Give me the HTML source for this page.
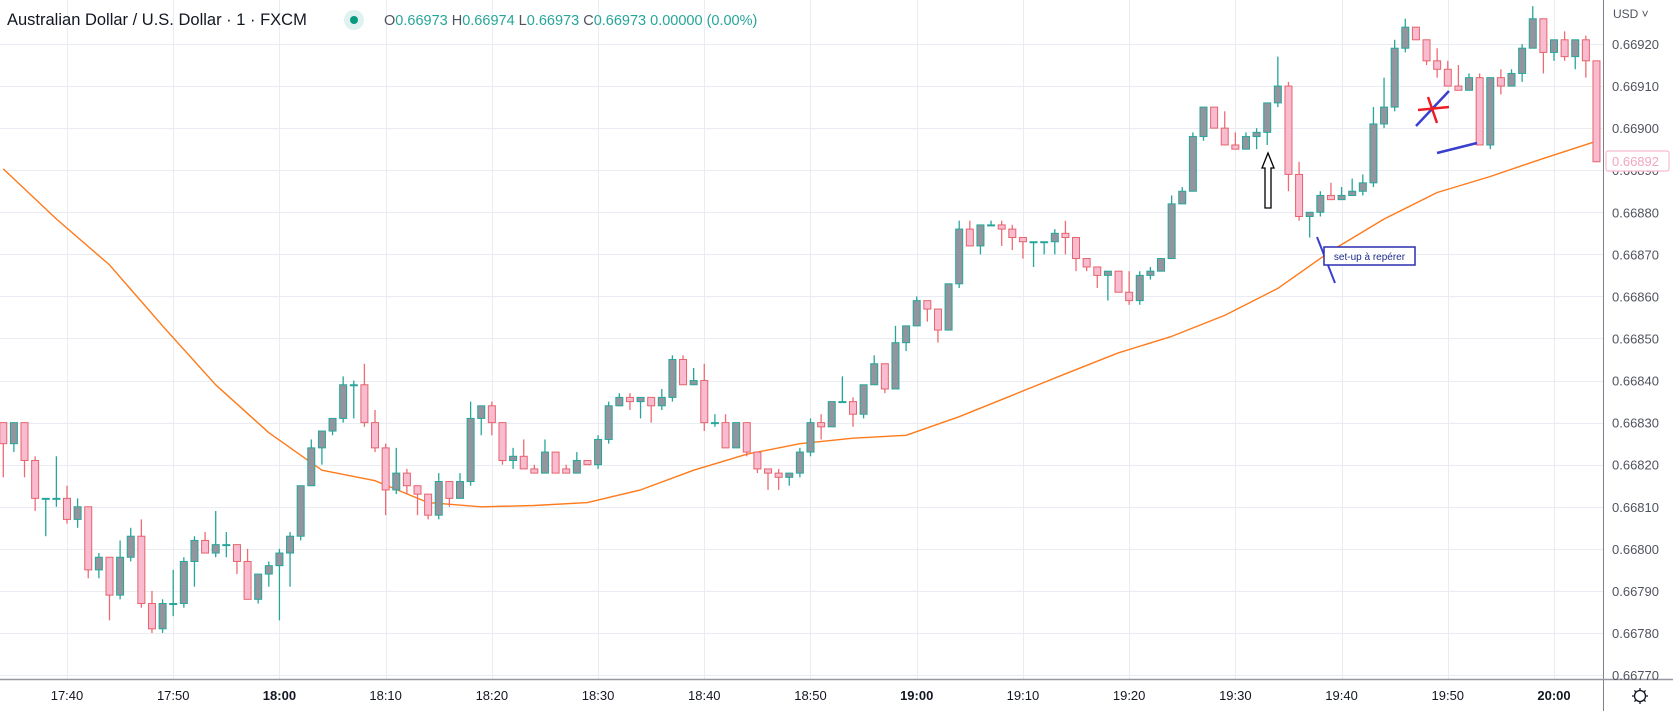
<!DOCTYPE html>
<html><head><meta charset="utf-8"><style>
html,body{margin:0;padding:0;background:#fff;width:1673px;height:711px;overflow:hidden}
svg{display:block;font-family:"Liberation Sans",sans-serif}
</style></head><body>
<svg id="chart" width="1673" height="711" viewBox="0 0 1673 711" xmlns="http://www.w3.org/2000/svg">
<rect x="0" y="0" width="1673" height="711" fill="#ffffff"/>
<g id="grid"></g>
<g id="ma"></g>
<g id="candles"></g>
<g id="ann">
  <polygon points="1268,153 1274,168 1271,168 1271,208 1265,208 1265,168 1262,168" fill="#fff" stroke="#000" stroke-width="1.3"/>
  <line x1="1317" y1="237" x2="1335" y2="283" stroke="#3b3fd0" stroke-width="2"/>
  <rect x="1324" y="247" width="91" height="18" fill="#fff" stroke="#2a2fb0" stroke-width="1.5"/>
  <text x="1369.5" y="260" font-size="10" fill="#1d2a8a" text-anchor="middle">set-up à repérer</text>
  <line x1="1416" y1="126" x2="1449" y2="91" stroke="#3b3fd0" stroke-width="2.5"/>
  <line x1="1418" y1="110" x2="1449" y2="107" stroke="#ee1c24" stroke-width="2.5"/>
  <line x1="1428" y1="97" x2="1437" y2="123" stroke="#ee1c24" stroke-width="2.5"/>
  <line x1="1437" y1="153" x2="1477" y2="143" stroke="#3b3fd0" stroke-width="2.5"/>
</g>
<g id="axes">
  <rect x="1604" y="0" width="69" height="711" fill="#fff"/>
  <rect x="0" y="680" width="1604" height="31" fill="#fff"/>
  <line x1="1603.5" y1="0" x2="1603.5" y2="711" stroke="#7d808a" stroke-width="1"/>
  <line x1="0" y1="679.5" x2="1673" y2="679.5" stroke="#9598a1" stroke-width="1.5"/>
  <text x="1613" y="18" font-size="12" fill="#50535e">USD ˅</text>
  <g transform="translate(1640,696)">
    <circle r="5.5" fill="none" stroke="#131722" stroke-width="1.3"/>
    <g stroke="#131722" stroke-width="1.3"><line x1="0" y1="-8" x2="0" y2="-5.5"/><line x1="0" y1="5.5" x2="0" y2="8"/><line x1="-8" y1="0" x2="-5.5" y2="0"/><line x1="5.5" y1="0" x2="8" y2="0"/><line x1="-5.6" y1="-5.6" x2="-3.9" y2="-3.9"/><line x1="3.9" y1="3.9" x2="5.6" y2="5.6"/><line x1="-5.6" y1="5.6" x2="-3.9" y2="3.9"/><line x1="3.9" y1="-3.9" x2="5.6" y2="-5.6"/></g>
  </g>
</g>
<g id="ylab"></g>
<g id="xlab"></g>
<g>
  <rect x="1606" y="151" width="63" height="20" rx="2" fill="#fff" stroke="#f8bbd0" stroke-width="1.2"/>
  <text id="lastTxt" x="1612" y="166" font-size="13" fill="#f3a6bf">0.66892</text>
</g>
<g>
  <text x="7" y="25" font-size="16.5" fill="#131722">Australian Dollar / U.S. Dollar · 1 · FXCM</text>
  <circle cx="354" cy="20" r="10" fill="#dff2ef"/>
  <circle cx="354" cy="20" r="4" fill="#089981"/>
  <text x="384" y="25" font-size="14.5" fill="#26a69a"><tspan fill="#50535e">O</tspan>0.66973 <tspan fill="#50535e">H</tspan>0.66974 <tspan fill="#50535e">L</tspan>0.66973 <tspan fill="#50535e">C</tspan>0.66973 0.00000 (0.00%)</text>
</g>
</svg>
<script>
// values in points (1 point = 0.00001) above 0.66700; index = minutes since 17:34
const opens  = [130,125,130,121,112,112,112,107,110,95,98,89,98,103,87,81,87,87,97,102,99,101,101,97,88,94,96,99,103,115,124,128,131,139,139,130,124,114,118,115,113,108,116,112,116,131,134,130,121,122,119,118,123,119,118,121,120,126,134,136,135,136,134,136,145,139,140,130,130,124,130,123,119,118,117,118,123,130,129,135,135,132,139,144,138,149,153,159,157,152,163,176,172,177,177,176,174,173,173,173,175,174,169,167,165,166,161,159,165,166,169,182,185,198,205,200,196,195,198,199,206,210,189,179,180,184,183,184,185,187,201,205,219,224,221,216,214,210,209,212,196,212,210,213,219,226,218,221,217,221,216];
const highs  = [130,130,130,122,112,122,115,112,110,99,98,102,105,107,90,88,95,98,103,104,109,104,101,100,94,97,100,104,115,126,128,131,141,140,144,133,125,124,119,115,113,118,116,118,135,134,135,130,124,126,120,126,123,120,123,121,127,135,137,137,136,136,138,146,146,143,144,132,132,130,130,123,119,119,118,124,131,132,135,141,136,139,146,144,153,153,160,159,157,163,178,178,177,178,178,177,174,173,173,176,178,174,169,167,166,166,166,166,167,169,184,186,199,205,205,204,199,199,200,206,217,211,192,180,185,187,186,188,189,205,212,221,226,224,221,219,216,215,213,213,212,214,214,220,229,226,221,223,221,222,216];
const lows   = [117,123,117,109,103,110,106,105,93,93,83,88,97,86,80,80,84,86,91,99,98,98,94,88,87,91,83,91,102,115,120,127,130,131,129,123,108,113,113,108,107,107,110,112,115,127,127,120,119,119,118,118,118,118,118,120,119,125,134,133,131,130,133,135,139,139,128,129,124,124,122,118,114,114,115,117,122,126,129,135,129,131,139,137,138,147,153,154,149,152,162,172,170,177,172,171,169,167,170,170,170,166,166,162,159,161,158,158,164,166,169,182,185,197,200,196,195,195,195,196,205,185,178,174,179,183,183,184,184,186,200,204,218,221,215,212,210,209,209,196,195,208,210,211,219,213,216,216,214,212,192];
const closes = [125,130,121,112,112,112,107,110,95,98,89,98,103,87,81,87,87,97,102,99,101,101,97,88,94,96,99,103,115,124,128,131,139,139,130,124,114,118,115,113,108,116,112,116,131,134,130,121,122,119,118,123,118,118,121,120,126,134,136,135,136,134,136,145,139,140,130,130,124,130,123,119,118,117,118,123,130,129,135,135,132,139,144,138,149,153,159,157,152,163,176,172,177,177,176,174,173,173,173,175,174,169,167,165,166,161,159,165,166,169,182,185,198,205,200,196,195,198,199,206,210,189,179,180,184,183,184,185,187,201,205,219,224,221,216,214,210,209,212,196,212,210,213,219,226,218,221,217,221,216,192];
// moving average sampled every 5 candles
const maIndex = [0,5,10,15,20,25,30,35,40,45,50,55,60,65,70,75,80,85,90,95,100,105,110,115,120,125,130,135,140,145,150];
const maValues = [190.3,178.4,167.5,153,139,127.6,118.7,116.2,111,110,110.3,111,114,118.7,122.5,125,126.3,127,131.4,136.5,141.6,146.6,150.5,155.5,161.9,170.8,178.4,184.7,188.5,192.8,196.9];
const priceTicks = [70,80,90,100,110,120,130,140,150,160,170,180,190,200,210,220];
const timeTicks = [6,16,26,36,46,56,66,76,86,96,106,116,126,136,146];
const timeLabels = ["17:40","17:50","18:00","18:10","18:20","18:30","18:40","18:50","19:00","19:10","19:20","19:30","19:40","19:50","20:00"];
const boldLabels = ["18:00","19:00","20:00"];

const NS="http://www.w3.org/2000/svg";
function xOf(i){return 67+(i-6)*10.6214;}
function yOf(v){return 44+(220-v)*4.207;}
function mk(tag,attrs,parent){const e=document.createElementNS(NS,tag);for(const k in attrs)e.setAttribute(k,attrs[k]);parent.appendChild(e);return e;}
const grid=document.getElementById('grid'),ylab=document.getElementById('ylab'),xlab=document.getElementById('xlab');
priceTicks.forEach(v=>{
  const y=Math.round(yOf(v))+0.5;
  const l=mk('line',{x1:0,x2:1603,y1:y,y2:y,stroke:'#e9edf3','stroke-width':1},grid);
  
  
  const t=mk('text',{x:1612,y:yOf(v)+5,'font-size':13,fill:'#50535e'},ylab);
  t.textContent=(0.667+v*0.00001).toFixed(5);
  
  
});
timeTicks.forEach((m,k)=>{
  const x=Math.round(xOf(m))+0.5;
  const l=mk('line',{x1:x,x2:x,y1:0,y2:679,stroke:'#e9edf3','stroke-width':1},grid);
  
  
  const lab=timeLabels[k];
  const t=mk('text',{x:xOf(m),y:700,'font-size':13,fill:'#131722','text-anchor':'middle','font-weight':boldLabels.includes(lab)?'bold':'normal'},xlab);
  t.textContent=lab;
  
  
});
// moving average
let d='';
maIndex.forEach((i,k)=>{d+=(k?'L':'M')+xOf(i).toFixed(1)+' '+yOf(maValues[k]).toFixed(1);});
const ma=mk('path',{d:d,fill:'none',stroke:'#ff7a1a','stroke-width':1.4,'stroke-linejoin':'round'},document.getElementById('ma'));


// candles
const cg=document.getElementById('candles');
opens.forEach((o,i)=>{
  const c=closes[i],h=highs[i],lo=lows[i];
  const bull=c>=o;
  const x=xOf(i);
  const wickCol=bull?'#26a69a':'#ef6b73';
  const w=mk('line',{x1:x,x2:x,y1:yOf(h),y2:yOf(lo),stroke:wickCol,'stroke-width':1.3},cg);
  
  
  const top=yOf(Math.max(o,c)),bot=yOf(Math.min(o,c));
  const b=mk('rect',{x:x-3.5,y:top,width:7,height:Math.max(bot-top,1),fill:bull?'#93959e':'#f8bbd0',stroke:bull?'#26a69a':'#e5646d','stroke-width':1},cg);
  
  
});
</script>
</body></html>
